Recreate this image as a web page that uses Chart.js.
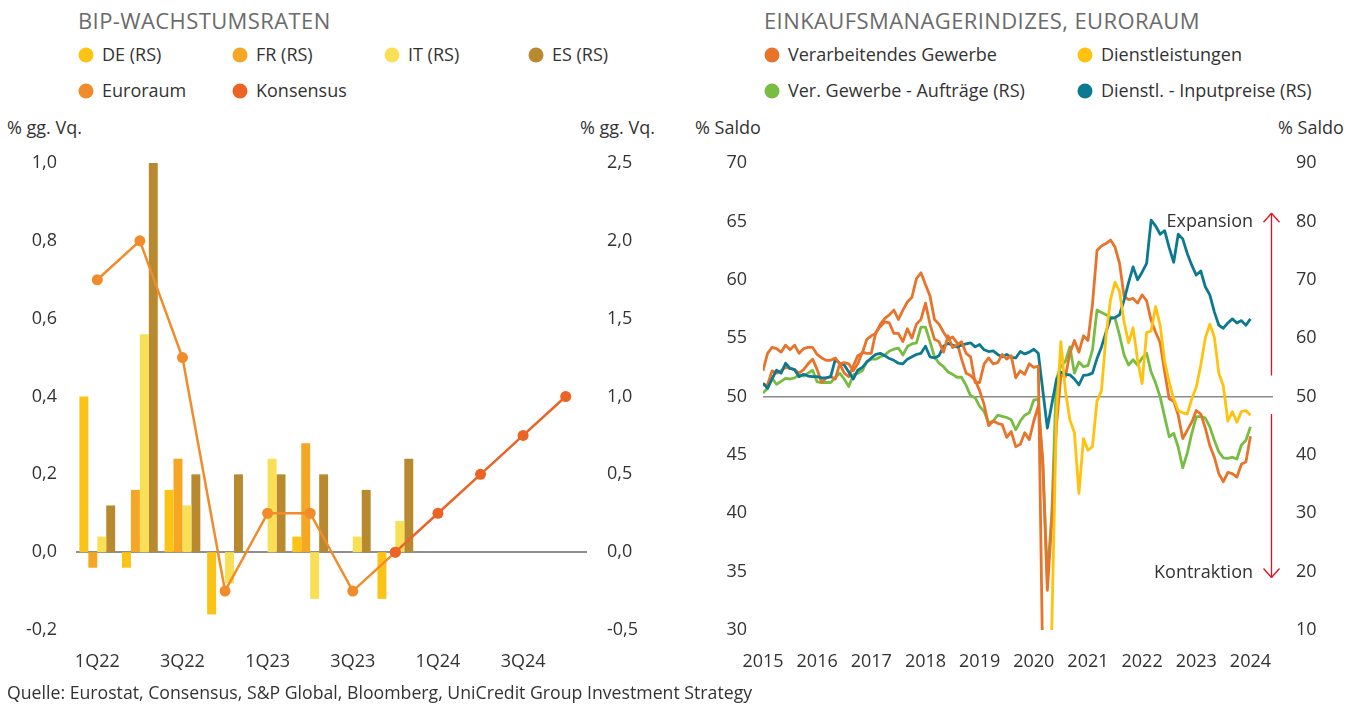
<!DOCTYPE html>
<html><head><meta charset="utf-8">
<script src="https://cdn.jsdelivr.net/npm/chart.js@4"></script>
<style>
body{margin:0;width:1362px;height:709px;overflow:hidden;background:#fff;position:relative;font-family:'Open Sans',sans-serif;color:#333;}
.t{position:absolute;white-space:nowrap;line-height:1.2;transform:translateY(-50%);}
.title{font-size:22px;color:#6b6b6b;letter-spacing:0.4px}
.lg{font-size:18px;color:#333}
.ft{font-size:17.7px;color:#333}
.ax{font-size:18px;color:#333}
.dot{position:absolute;width:15px;height:15px;border-radius:50%;transform:translate(-50%,-50%)}
canvas{position:absolute}
</style></head><body>
<canvas id="c1" width="680" height="550" style="left:0;top:140px"></canvas>
<canvas id="c2" width="682" height="550" style="left:680px;top:140px"></canvas>
<script>
// ---------- Left chart data: BIP-Wachstumsraten ----------
const gdpQuarters = ['1Q22','2Q22','3Q22','4Q22','1Q23','2Q23','3Q23','4Q23','1Q24','2Q24','3Q24','4Q24'];
const gdpDE = [1.0,-0.1,0.4,-0.4,0.0,0.1,0.0,-0.3,null,null,null,null];
const gdpFR = [-0.1,0.4,0.6,0.0,0.0,0.7,0.0,0.0,null,null,null,null];
const gdpIT = [0.1,1.4,0.3,-0.2,0.6,-0.3,0.1,0.2,null,null,null,null];
const gdpES = [0.3,2.5,0.5,0.5,0.5,0.5,0.4,0.6,null,null,null,null];
const gdpEuroraum = [0.7,0.8,0.5,-0.1,0.1,0.1,-0.1,0.0,null,null,null,null];
const gdpKonsensus = [null,null,null,null,null,null,null,0.0,0.1,0.2,0.3,0.4];

// ---------- Right chart data: Einkaufsmanagerindizes (monthly, Jan 2015 - Jan 2024) ----------
const pmiYearLabels = ['2015','2016','2017','2018','2019','2020','2021','2022','2023','2024'];
const pmiManufacturing = [
51.0,51.0,52.2,52.0,52.2,52.5,52.4,52.3,52.0,52.3,52.8,53.2,
52.3,51.2,51.6,51.7,51.5,52.8,52.0,51.7,52.6,53.5,53.7,54.9,
55.2,55.4,56.2,56.7,57.0,57.4,56.6,57.4,58.1,58.5,60.1,60.6,
59.6,58.6,56.6,56.2,55.5,54.9,55.1,54.6,53.2,52.0,51.8,51.4,
50.5,49.3,47.5,47.9,47.7,47.6,46.5,47.0,45.7,45.9,46.9,46.3,
47.9,49.2,44.5,33.4,39.4,47.4,51.8,51.7,53.7,54.8,53.8,55.2,
54.8,57.9,62.5,62.9,63.1,63.4,62.8,61.4,58.6,58.3,58.4,58.0,
58.7,58.2,56.5,55.5,54.6,52.1,49.8,49.6,48.4,46.4,47.1,47.8,
48.8,48.5,47.3,45.8,44.8,43.4,42.7,43.5,43.4,43.1,44.2,44.4,
46.6];
const pmiServices = [
52.2,53.7,54.2,54.1,53.8,54.4,54.0,54.4,53.7,54.1,54.2,54.2,
53.6,53.3,53.1,53.1,53.3,52.8,52.9,52.8,52.2,52.8,53.8,53.7,
53.7,55.5,56.0,56.4,56.3,55.4,55.4,54.7,55.8,55.0,56.2,56.6,
58.0,56.2,54.9,54.7,53.8,55.2,54.2,54.4,54.7,53.7,53.4,51.2,
51.2,52.8,53.3,52.8,52.9,53.6,53.2,53.5,51.6,52.2,51.9,52.8,
52.5,52.6,26.4,12.0,30.5,48.3,54.7,50.5,48.0,46.9,41.7,46.4,
45.4,45.7,49.6,50.5,55.2,58.3,59.8,59.0,56.4,54.6,55.9,53.1,
51.1,55.5,55.6,57.7,56.1,53.0,51.2,49.8,48.8,48.6,48.5,49.8,
50.8,52.7,55.0,56.2,55.1,52.0,50.9,47.9,48.7,47.8,48.7,48.8,
48.4];
const pmiMfgOrders = [
50.6,51.4,53.1,52.1,52.6,53.1,53.0,53.2,53.7,53.5,54.0,54.5,
52.5,52.4,52.4,52.4,53.2,54.0,53.0,51.7,53.7,54.0,54.4,56.0,
56.4,56.4,56.8,57.1,57.8,58.1,58.3,57.1,58.6,59.0,59.2,61.9,
61.9,59.4,56.8,55.7,55.1,54.2,53.8,53.3,53.3,51.9,50.1,49.8,
48.3,47.4,45.5,45.8,46.8,46.6,46.4,46.0,44.3,45.8,46.8,47.2,
49.4,49.5,38.0,19.0,30.0,53.0,55.2,56.0,58.5,54.0,55.9,55.1,
55.3,58.0,64.8,64.4,64.0,63.6,63.4,60.5,57.1,55.4,56.3,55.4,
56.6,57.4,54.2,52.3,49.9,46.5,43.1,43.7,41.3,37.8,40.3,43.7,
46.5,46.6,46.3,44.8,42.5,40.5,39.5,39.4,39.6,39.3,41.7,42.5,
44.8];
const pmiServInputPrices = [
52.3,51.4,53.0,54.5,54.0,55.7,54.8,54.6,53.4,53.8,53.5,53.4,
53.4,53.2,53.2,53.4,56.3,55.7,55.4,54.2,53.0,54.5,55.0,55.9,
56.6,57.2,57.4,57.0,56.5,56.2,55.7,55.6,56.4,56.8,57.2,57.4,
58.6,56.8,56.6,57.0,58.6,59.1,58.8,58.5,58.8,59.0,59.2,58.5,
58.9,58.0,57.7,57.8,57.2,56.8,57.2,56.7,56.6,57.7,57.3,57.6,
58.1,57.4,51.0,44.6,48.7,52.8,54.2,53.8,53.7,53.0,52.0,53.6,
53.7,54.0,56.5,58.5,61.0,63.4,63.5,64.0,66.5,69.5,72.2,70.0,
71.3,72.8,80.2,79.2,77.8,78.4,75.5,73.0,77.8,77.0,74.5,72.5,
70.8,71.5,68.8,67.4,64.5,62.2,61.7,62.6,63.3,62.6,63.0,62.2,
63.3];

// ---------- HTML text ----------
function txt(s, x, cy, cls, alignRight){
  const d=document.createElement('div'); d.className='t '+cls; d.textContent=s;
  d.style.top=cy+'px';
  if(alignRight){ d.style.right=(1362-x)+'px'; } else { d.style.left=x+'px'; }
  document.body.appendChild(d); return d;
}
function dot(x, cy, color){
  const d=document.createElement('div'); d.className='dot'; d.style.left=x+'px'; d.style.top=cy+'px'; d.style.background=color;
  document.body.appendChild(d);
}
const C = {de:'#FBC315', fr:'#F5A623', it:'#F9DF55', es:'#B8892E', euro:'#F28B2A', kons:'#EB6426',
           mfg:'#E8732A', serv:'#FFC20E', ord:'#78BD43', inp:'#0B7A90'};
txt('BIP-WACHSTUMSRATEN', 78, 20, 'title');
txt('EINKAUFSMANAGERINDIZES, EURORAUM', 764, 20, 'title');
const leftLegend = [['DE (RS)',C.de,86,55],['FR (RS)',C.fr,240,55],['IT (RS)',C.it,392,55],['ES (RS)',C.es,536,55],
                    ['Euroraum',C.euro,86,91],['Konsensus',C.kons,240,91]];
leftLegend.forEach(l=>{dot(l[2],l[3],l[1]); txt(l[0],l[2]+16,l[3],'lg');});
const rightLegend = [['Verarbeitendes Gewerbe',C.mfg,772,55],['Dienstleistungen',C.serv,1085,55],
                     ['Ver. Gewerbe - Aufträge (RS)',C.ord,772,91],['Dienstl. - Inputpreise (RS)',C.inp,1085,91]];
rightLegend.forEach(l=>{dot(l[2],l[3],l[1]); txt(l[0],l[2]+16,l[3],'lg');});
txt('% gg. Vq.', 7, 128, 'ax');
txt('% gg. Vq.', 580, 128, 'ax');
txt('% Saldo', 695, 128, 'ax');
txt('% Saldo', 1278, 128, 'ax');
txt('Expansion', 1253, 221, 'ax', true);
txt('Kontraktion', 1253, 572, 'ax', true);
txt('Quelle: Eurostat, Consensus, S&P Global, Bloomberg, UniCredit Group Investment Strategy', 7, 693, 'ft');

// ---------- Charts ----------
Chart.defaults.font.family = "'Open Sans', sans-serif";
Chart.defaults.font.size = 18;
Chart.defaults.color = '#333';
const fmt1 = v => (Math.round(v*10)/10).toFixed(1).replace('.',',').replace('-0,0','0,0');
const fixV = w => s => { s.width = w; s.paddingTop = 8; s.paddingBottom = 8; };

new Chart(document.getElementById('c1'), {
  data: {
    labels: gdpQuarters,
    datasets: [
      {type:'line', label:'Konsensus', data:gdpKonsensus, yAxisID:'y', borderColor:C.kons, backgroundColor:C.kons, borderWidth:2.5, pointRadius:5.5, pointBackgroundColor:C.kons, pointBorderWidth:0, order:-1},
      {type:'line', label:'Euroraum', data:gdpEuroraum, yAxisID:'y', borderColor:C.euro, backgroundColor:C.euro, borderWidth:2.5, pointRadius:5.5, pointBackgroundColor:C.euro, pointBorderWidth:0, order:0},
      {type:'bar', label:'DE (RS)', data:gdpDE, yAxisID:'y2', backgroundColor:C.de, order:1},
      {type:'bar', label:'FR (RS)', data:gdpFR, yAxisID:'y2', backgroundColor:C.fr, order:1},
      {type:'bar', label:'IT (RS)', data:gdpIT, yAxisID:'y2', backgroundColor:C.it, order:1},
      {type:'bar', label:'ES (RS)', data:gdpES, yAxisID:'y2', backgroundColor:C.es, order:1}
    ]
  },
  options: {
    responsive:false, animation:false,
    layout:{padding:{top:23,left:0,right:0,bottom:0}},
    datasets:{bar:{categoryPercentage:0.84, barPercentage:1.0}},
    plugins:{legend:{display:false}, tooltip:{enabled:false}},
    scales:{
      x:{type:'category', offset:true, grid:{display:false, drawTicks:false}, border:{display:false},
         ticks:{autoSkip:false, maxRotation:0, padding:21, callback:function(v,i){return i%2===0?gdpQuarters[i]:'';}},
         afterFit:s=>{s.height=60;}},
      y:{position:'left', min:-0.2, max:1.0, border:{display:false},
         grid:{drawTicks:false, lineWidth:2, color:c=>c.tick && Math.abs(c.tick.value)<1e-9?'#8f8f8f':'rgba(0,0,0,0)'},
         ticks:{stepSize:0.2, padding:19, callback:v=>fmt1(v)},
         afterFit:fixV(76)},
      y2:{position:'right', min:-0.5, max:2.5, border:{display:false}, grid:{display:false, drawTicks:false},
         ticks:{stepSize:0.5, padding:20, callback:v=>fmt1(v)},
         afterFit:fixV(93)}
    }
  }
});

const arrowPlugin = {
  id:'arrows',
  afterDatasetsDraw(chart){
    const ctx=chart.ctx, y=chart.scales.y, x=chart.chartArea.right-1.5;
    ctx.save(); ctx.strokeStyle='#E3101E'; ctx.lineWidth=1.3;
    const seg=(a,b)=>{ctx.beginPath();ctx.moveTo(a[0],a[1]);ctx.lineTo(b[0],b[1]);ctx.stroke();};
    const up1=y.getPixelForValue(51.8), up2=y.getPixelForValue(65.7);
    seg([x,up1],[x,up2]); seg([x-8,up2+9],[x,up2]); seg([x+8,up2+9],[x,up2]);
    const dn1=y.getPixelForValue(48.5), dn2=y.getPixelForValue(34.5);
    seg([x,dn1],[x,dn2]); seg([x-8,dn2-9],[x,dn2]); seg([x+8,dn2-9],[x,dn2]);
    ctx.restore();
  }
};
const toXY = arr => arr.map((v,i)=>({x:i, y:v}));
const lineDS = (label, arr, color, axis, extra) => Object.assign({type:'line', label, data:toXY(arr), yAxisID:axis, borderColor:color, backgroundColor:color, borderWidth:2.8, pointRadius:0, tension:0, borderJoinStyle:'round'}, extra||{});
new Chart(document.getElementById('c2'), {
  data: {
    datasets: [
      lineDS('Dienstleistungen', pmiServices, C.serv, 'y', {order:0, segment:{borderColor:c=>c.p0DataIndex<=61?C.mfg:C.serv}}),
      lineDS('Dienstl. - Inputpreise (RS)', pmiServInputPrices, C.inp, 'y2', {order:1}),
      lineDS('Verarbeitendes Gewerbe', pmiManufacturing, C.mfg, 'y', {order:2}),
      lineDS('Ver. Gewerbe - Aufträge (RS)', pmiMfgOrders, C.ord, 'y2', {order:3})
    ]
  },
  options: {
    responsive:false, animation:false,
    layout:{padding:{top:23,left:0,right:0,bottom:0}},
    plugins:{legend:{display:false}, tooltip:{enabled:false}},
    scales:{
      x:{type:'linear', min:0, max:113, grid:{display:false, drawTicks:false}, border:{display:false},
         afterBuildTicks:s=>{s.ticks=pmiYearLabels.map((l,i)=>({value:i*12}));},
         ticks:{maxRotation:0, autoSkip:false, padding:21, callback:v=>pmiYearLabels[Math.round(v/12)]},
         afterFit:s=>{s.height=60;}},
      y:{position:'left', min:30, max:70, border:{display:false},
         grid:{drawTicks:false, lineWidth:1.5, color:c=>c.tick && c.tick.value===50?'#8a8a8a':'rgba(0,0,0,0)'},
         ticks:{stepSize:5, padding:16},
         afterFit:fixV(83)},
      y2:{position:'right', min:10, max:90, border:{display:false}, grid:{display:false, drawTicks:false},
         ticks:{stepSize:10, padding:23},
         afterFit:fixV(89)}
    }
  },
  plugins:[arrowPlugin]
});
</script>
</body></html>
